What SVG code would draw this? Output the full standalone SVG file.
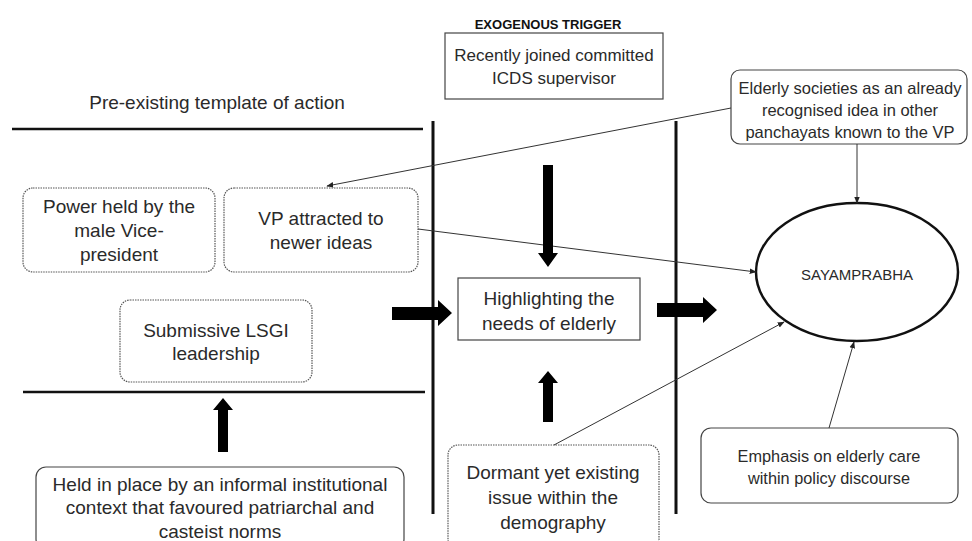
<svg xmlns="http://www.w3.org/2000/svg" width="972" height="541" viewBox="0 0 972 541">
  <style>
    text { font-family: "Liberation Sans", Arial, sans-serif; fill: #2a2a2a; text-anchor: middle; }
    .t16 { font-size: 19px; }
    .t15 { font-size: 17px; }
    .t15s { font-size: 16.5px; }
    .t14 { font-size: 16.3px; }
    .head { font-size: 13px; font-weight: bold; fill: #111; }
    .dotbox { fill: #fff; stroke: #555; stroke-width: 1.2; stroke-dasharray: 1.5 1; }
    .solidbox { fill: #fff; stroke: #444; stroke-width: 1.2; }
    .rule { stroke: #111; stroke-width: 2.5; fill: none; }
    .divider { stroke: #111; stroke-width: 3; fill: none; }
    .link { stroke: #333; stroke-width: 1; fill: none; marker-end: url(#tip); }
    .block { fill: #000; }
  </style>
  <defs>
    <marker id="tip" viewBox="0 0 10 10" refX="9" refY="5" markerWidth="7" markerHeight="7" markerUnits="userSpaceOnUse" orient="auto">
      <path d="M0,1 L10,5 L0,9 Z" fill="#222"/>
    </marker>
  </defs>

  <rect width="972" height="541" fill="#fff"/>

  <!-- section rules and dividers -->
  <g id="frame">
    <text class="t16" x="217" y="109">Pre-existing template of action</text>
    <line class="rule" x1="12" y1="129" x2="423" y2="129"/>
    <line class="rule" x1="23" y1="392" x2="425" y2="392"/>
    <line class="divider" x1="433" y1="121" x2="433" y2="514"/>
    <line class="divider" x1="676" y1="121" x2="676" y2="514"/>
    <text class="head" x="548" y="29">EXOGENOUS TRIGGER</text>
  </g>

  <g id="icds">
    <rect class="solidbox" x="445" y="33" width="218" height="66"/>
    <text class="t15" x="554" y="61">Recently joined committed</text>
    <text class="t15" x="554" y="84">ICDS supervisor</text>
  </g>

  <g id="elderly-societies">
    <rect class="solidbox" x="731" y="70" width="236" height="74" rx="9"/>
    <text class="t15s" x="850" y="94">Elderly societies as an already</text>
    <text class="t15s" x="850" y="116">recognised idea in other</text>
    <text class="t15s" x="850" y="138">panchayats known to the VP</text>
  </g>

  <g id="power-held">
    <rect class="dotbox" x="23" y="188" width="192" height="84" rx="10"/>
    <text class="t16" x="119" y="213">Power held by the</text>
    <text class="t16" x="119" y="237">male Vice-</text>
    <text class="t16" x="119" y="261">president</text>
  </g>

  <g id="vp-attracted">
    <rect class="dotbox" x="224" y="188" width="194" height="84" rx="10"/>
    <text class="t16" x="321" y="225">VP attracted to</text>
    <text class="t16" x="321" y="249">newer ideas</text>
  </g>

  <g id="submissive">
    <rect class="dotbox" x="120" y="300" width="192" height="82" rx="10"/>
    <text class="t16" x="216" y="337">Submissive LSGI</text>
    <text class="t16" x="216" y="360">leadership</text>
  </g>

  <g id="held-in-place">
    <rect class="solidbox" x="36" y="467" width="368" height="82" rx="10"/>
    <text class="t16" x="220" y="491">Held in place by an informal institutional</text>
    <text class="t16" x="220" y="514">context that favoured patriarchal and</text>
    <text class="t16" x="220" y="538">casteist norms</text>
  </g>

  <g id="highlighting">
    <rect class="solidbox" x="458" y="278" width="182" height="62"/>
    <text class="t16" x="549" y="305">Highlighting the</text>
    <text class="t16" x="549" y="330">needs of elderly</text>
  </g>

  <g id="dormant">
    <rect class="dotbox" x="448" y="445" width="211" height="104" rx="10"/>
    <text class="t16" x="553" y="479">Dormant yet existing</text>
    <text class="t16" x="553" y="504">issue within the</text>
    <text class="t16" x="553" y="529">demography</text>
  </g>

  <g id="emphasis">
    <rect class="solidbox" x="701" y="428" width="257" height="75" rx="10"/>
    <text class="t14" x="829" y="462">Emphasis on elderly care</text>
    <text class="t14" x="829" y="484">within policy discourse</text>
  </g>

  <g id="sayamprabha">
    <ellipse cx="857" cy="272" rx="101" ry="69" fill="#fff" stroke="#111" stroke-width="2.5"/>
    <text x="857" y="280" style="font-size:15px">SAYAMPRABHA</text>
  </g>

  <!-- connectors -->
  <g id="connectors">
    <line class="link" x1="731" y1="108" x2="327" y2="186"/>
    <line class="link" x1="857" y1="144" x2="857" y2="203"/>
    <line class="link" x1="418" y1="229" x2="756" y2="272"/>
    <line class="link" x1="554" y1="445" x2="784" y2="322"/>
    <line class="link" x1="829" y1="428" x2="854" y2="342"/>

    <!-- block arrows -->
    <path class="block" d="M218,452 L228,452 L228,410 L233,410 L223,398 L213,410 L218,410 Z"/>
    <path class="block" d="M392,307 L438,307 L438,300 L452,313 L438,326 L438,320 L392,320 Z"/>
    <path class="block" d="M543,165 L553,165 L553,253 L558,253 L548,267 L538,253 L543,253 Z"/>
    <path class="block" d="M543,422 L553,422 L553,383 L558,383 L548,371 L538,383 L543,383 Z"/>
    <path class="block" d="M657,303 L703,303 L703,297 L717,310 L703,323 L703,317 L657,317 Z"/>
  </g>
</svg>
